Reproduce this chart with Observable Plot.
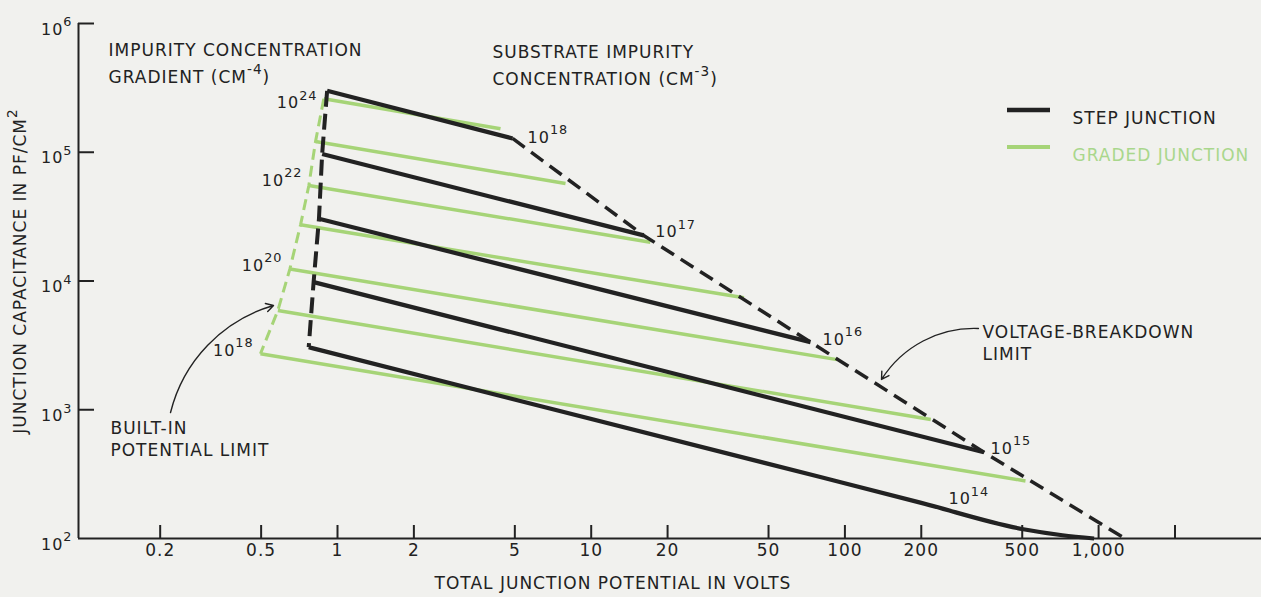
<!DOCTYPE html>
<html>
<head>
<meta charset="utf-8">
<script src="https://cdn.jsdelivr.net/npm/d3@7"></script>
<script src="https://cdn.jsdelivr.net/npm/@observablehq/plot@0.6"></script>
<style>
  html, body { margin: 0; padding: 0; background: #f1f1ee; }
  #chart svg { display: block; }
</style>
</head>
<body>
<div id="chart"></div>
<script>
// ---------------- data ----------------
const xTickValues = [0.2, 0.5, 1, 2, 5, 10, 20, 50, 100, 200, 500, 1000, 2000];
const xTickLabels = ["0.2", "0.5", "1", "2", "5", "10", "20", "50", "100", "200", "500", "1,000", ""];
const yTickValues = [100, 1e3, 1e4, 1e5, 1e6];
const yTickLabels = ["10^{2}", "10^{3}", "10^{4}", "10^{5}", "10^{6}"];

// step junctions: substrate impurity concentration (cm^-3)
const stepLabels = ["10^{18}", "10^{17}", "10^{16}", "10^{15}", "10^{14}"];
const stepV = [[0.91, 4.90], [0.87, 16.1], [0.845, 73.2], [0.805, 353], [0.77, 80, 200, 505, 720, 960]];
const stepC = [[3.0e5, 1.28e5], [9.7e4, 2.26e4], [3.04e4, 3350], [9.8e3, 468], [3060, 300, 189, 118, 106, 100]];
const stepLabelV = [5.61, 17.9, 81.6, 375, 256];
const stepLabelC = [1.30e5, 2.40e4, 3510, 500, 203];

// graded junctions: impurity concentration gradient (cm^-4)
const gradedExp = [24, 23, 22, 21, 20, 19, 18];
const gradedV = [[0.883, 4.39], [0.819, 7.92], [0.771, 17.1], [0.715, 40.0], [0.649, 93.2], [0.582, 218], [0.497, 515]];
const gradedC = [[2.60e5, 1.52e5], [1.21e5, 5.72e4], [5.52e4, 2.0e4], [2.73e4, 7400], [1.24e4, 2450], [5900, 840], [2720, 280]];
const gradedLabels = ["10^{24}", "10^{22}", "10^{20}", "10^{18}"];
const gradedLabelV = [0.834, 0.728, 0.607, 0.467];
const gradedLabelC = [2.41e5, 6.03e4, 1.32e4, 2890];

// voltage-breakdown limit
const breakdownV = [4.90, 16.1, 73.2, 353, 1270];
const breakdownC = [1.28e5, 2.26e4, 3350, 468, 100];

// annotation arrows (tail -> head)
const arrowTailV = [0.2197, 336];
const arrowTailC = [952, 4277];
const arrowHeadV = [0.5596, 139.4];
const arrowHeadC = [6452, 1718];

// annotation texts
const noteTexts = ["IMPURITY CONCENTRATION\nGRADIENT (CM^{-4})", "SUBSTRATE IMPURITY\nCONCENTRATION (CM^{-3})"];
const noteV = [0.1252, 4.08];
const noteC = [7.93e5, 7.65e5];
const limitTexts = ["BUILT-IN\nPOTENTIAL LIMIT", "VOLTAGE-BREAKDOWN\nLIMIT"];
const limitV = [0.1274, 348.6];
const limitC = [855, 4761];

const xTitle = "TOTAL JUNCTION POTENTIAL IN VOLTS";
const yTitle = "JUNCTION CAPACITANCE IN PF/CM^{2}";
const legendLabels = ["STEP JUNCTION", "GRADED JUNCTION"];

// ---------------- tables built from the arrays ----------------
const stepRows = stepV.flatMap((vs, i) => vs.map((v, j) => ({series: stepLabels[i], v, c: stepC[i][j]})));
const gradedRows = gradedV.flatMap((vs, i) => vs.map((v, j) => ({series: gradedExp[i], v, c: gradedC[i][j]})));
const stepBuiltIn = stepV.map((vs, i) => ({v: vs[0], c: stepC[i][0]}));
const gradedBuiltIn = gradedV.map((vs, i) => ({v: vs[0], c: gradedC[i][0]}));
const breakdown = breakdownV.map((v, i) => ({v, c: breakdownC[i]}));
const stepLabelRows = stepLabels.map((t, i) => ({t, v: stepLabelV[i], c: stepLabelC[i]}));
const gradedLabelRows = gradedLabels.map((t, i) => ({t, v: gradedLabelV[i], c: gradedLabelC[i]}));
const noteRows = noteTexts.map((t, i) => ({t, v: noteV[i], c: noteC[i]}));
const limitRows = limitTexts.map((t, i) => ({t, v: limitV[i], c: limitC[i]}));
const arrows = arrowTailV.map((v, i) => ({v1: v, c1: arrowTailC[i], v2: arrowHeadV[i], c2: arrowHeadC[i]}));

const xDomain = [0.0953, 4386];
const yDomain = [100, 1e6];
const ink = "#222222";
const green = "#a6d477";
const greenText = "#a9d78c";

const chart = Plot.plot({
  width: 1261,
  height: 597,
  marginLeft: 78,
  marginRight: 0,
  marginTop: 23,
  marginBottom: 59,
  x: {type: "log", domain: xDomain, axis: null},
  y: {type: "log", domain: yDomain, axis: null},
  style: {background: "#f1f1ee", fontFamily: "DejaVu Sans", color: ink, letterSpacing: "1px"},
  marks: [
    // axes
    Plot.ruleY([yDomain[0]], {stroke: ink, strokeWidth: 2}),
    Plot.ruleX([xDomain[0]], {stroke: ink, strokeWidth: 2}),
    Plot.tickX(xTickValues, {x: d => d, stroke: ink, strokeWidth: 2, insetTop: 502}),
    Plot.tickY(yTickValues.slice(1), {y: d => d, stroke: ink, strokeWidth: 2, insetRight: 1167}),
    Plot.text(xTickValues, {x: d => d, text: (d, i) => xTickLabels[i], frameAnchor: "bottom", dy: 17, fontSize: 17, fill: ink}),
    Plot.text(yTickValues, {y: d => d, text: (d, i) => yTickLabels[i], frameAnchor: "left", textAnchor: "end", dx: -6, dy: 6, fontSize: 16, fill: ink}),
    Plot.text([xTitle], {text: d => d, frameAnchor: "bottom", textAnchor: "middle", dx: -57, dy: 50, fontSize: 17, fill: ink}),
    Plot.text([yTitle], {text: d => d, frameAnchor: "left", textAnchor: "middle", rotate: -90, dx: -58, dy: -10, fontSize: 17, fill: ink}),

    // graded junction curves and built-in limit
    Plot.line(gradedRows, {x: "v", y: "c", z: "series", stroke: green, strokeWidth: 3.5, strokeLinecap: "butt", strokeLinejoin: "miter"}),
    Plot.line(gradedBuiltIn, {x: "v", y: "c", stroke: green, strokeWidth: 3, strokeDasharray: "11,6", strokeLinecap: "butt"}),

    // step junction curves and built-in limit
    Plot.line(stepRows, {x: "v", y: "c", z: "series", curve: "monotone-x", stroke: ink, strokeWidth: 4.2, strokeLinecap: "butt", strokeLinejoin: "miter"}),
    Plot.line(stepBuiltIn, {x: "v", y: "c", stroke: ink, strokeWidth: 4, strokeDasharray: "16,7", strokeLinecap: "butt"}),

    // voltage-breakdown limit
    Plot.line(breakdown, {x: "v", y: "c", stroke: ink, strokeWidth: 3.5, strokeDasharray: "15,8", strokeLinecap: "butt"}),

    // labels
    Plot.text(stepLabelRows, {x: "v", y: "c", text: "t", textAnchor: "start", fontSize: 16, fill: ink}),
    Plot.text(gradedLabelRows, {x: "v", y: "c", text: "t", textAnchor: "end", fontSize: 16, fill: ink}),
    Plot.text(noteRows, {x: "v", y: "c", text: "t", textAnchor: "start", lineAnchor: "top", lineHeight: 1.6, fontSize: 17, fill: ink}),
    Plot.text(limitRows, {x: "v", y: "c", text: "t", textAnchor: "start", lineAnchor: "top", lineHeight: 1.3, fontSize: 17, fill: ink}),

    // arrows
    Plot.arrow(arrows.slice(0, 1), {x1: "v1", y1: "c1", x2: "v2", y2: "c2", bend: 30, stroke: ink, strokeWidth: 1.4, headLength: 9}),
    Plot.arrow(arrows.slice(1, 2), {x1: "v1", y1: "c1", x2: "v2", y2: "c2", bend: -30, stroke: ink, strokeWidth: 1.4, headLength: 9}),

    // legend labels
    Plot.text(legendLabels.slice(0, 1), {text: d => d, frameAnchor: "top-left", textAnchor: "start", dx: 994, dy: 88, fontSize: 17, fill: ink}),
    Plot.text(legendLabels.slice(1, 2), {text: d => d, frameAnchor: "top-left", textAnchor: "start", dx: 994, dy: 125, fontSize: 17, fill: greenText})
  ]
});

// superscripts: "^{...}" -> raised tspan (text stays real text)
const NS = "http://www.w3.org/2000/svg";
function supify(root) {
  for (const t of root.querySelectorAll("text")) {
    const lines = t.querySelectorAll("tspan");
    const targets = lines.length ? Array.from(lines) : [t];
    for (const el of targets) {
      const s = el.textContent;
      if (!s.includes("^{")) continue;
      const parts = s.split(/(\^\{[^}]*\})/).filter(p => p !== "");
      el.textContent = "";
      let raised = false;
      for (const p of parts) {
        const ts = document.createElementNS(NS, "tspan");
        if (p.startsWith("^{")) {
          ts.textContent = p.slice(2, -1);
          ts.setAttribute("font-size", "0.8em");
          ts.setAttribute("dy", "-0.65em");
          raised = true;
        } else {
          ts.textContent = p;
          if (raised) { ts.setAttribute("dy", "0.52em"); raised = false; }
        }
        el.appendChild(ts);
      }
    }
  }
}
supify(chart);

// legend swatches
const svg = d3.select(chart);
const lg = svg.append("g").attr("stroke-linecap", "butt");
lg.append("line").attr("x1", 1007).attr("x2", 1050).attr("y1", 110).attr("y2", 110).attr("stroke", ink).attr("stroke-width", 4.5);
lg.append("line").attr("x1", 1007).attr("x2", 1050).attr("y1", 147).attr("y2", 147).attr("stroke", green).attr("stroke-width", 4);

document.getElementById("chart").appendChild(chart);
</script>
</body>
</html>
